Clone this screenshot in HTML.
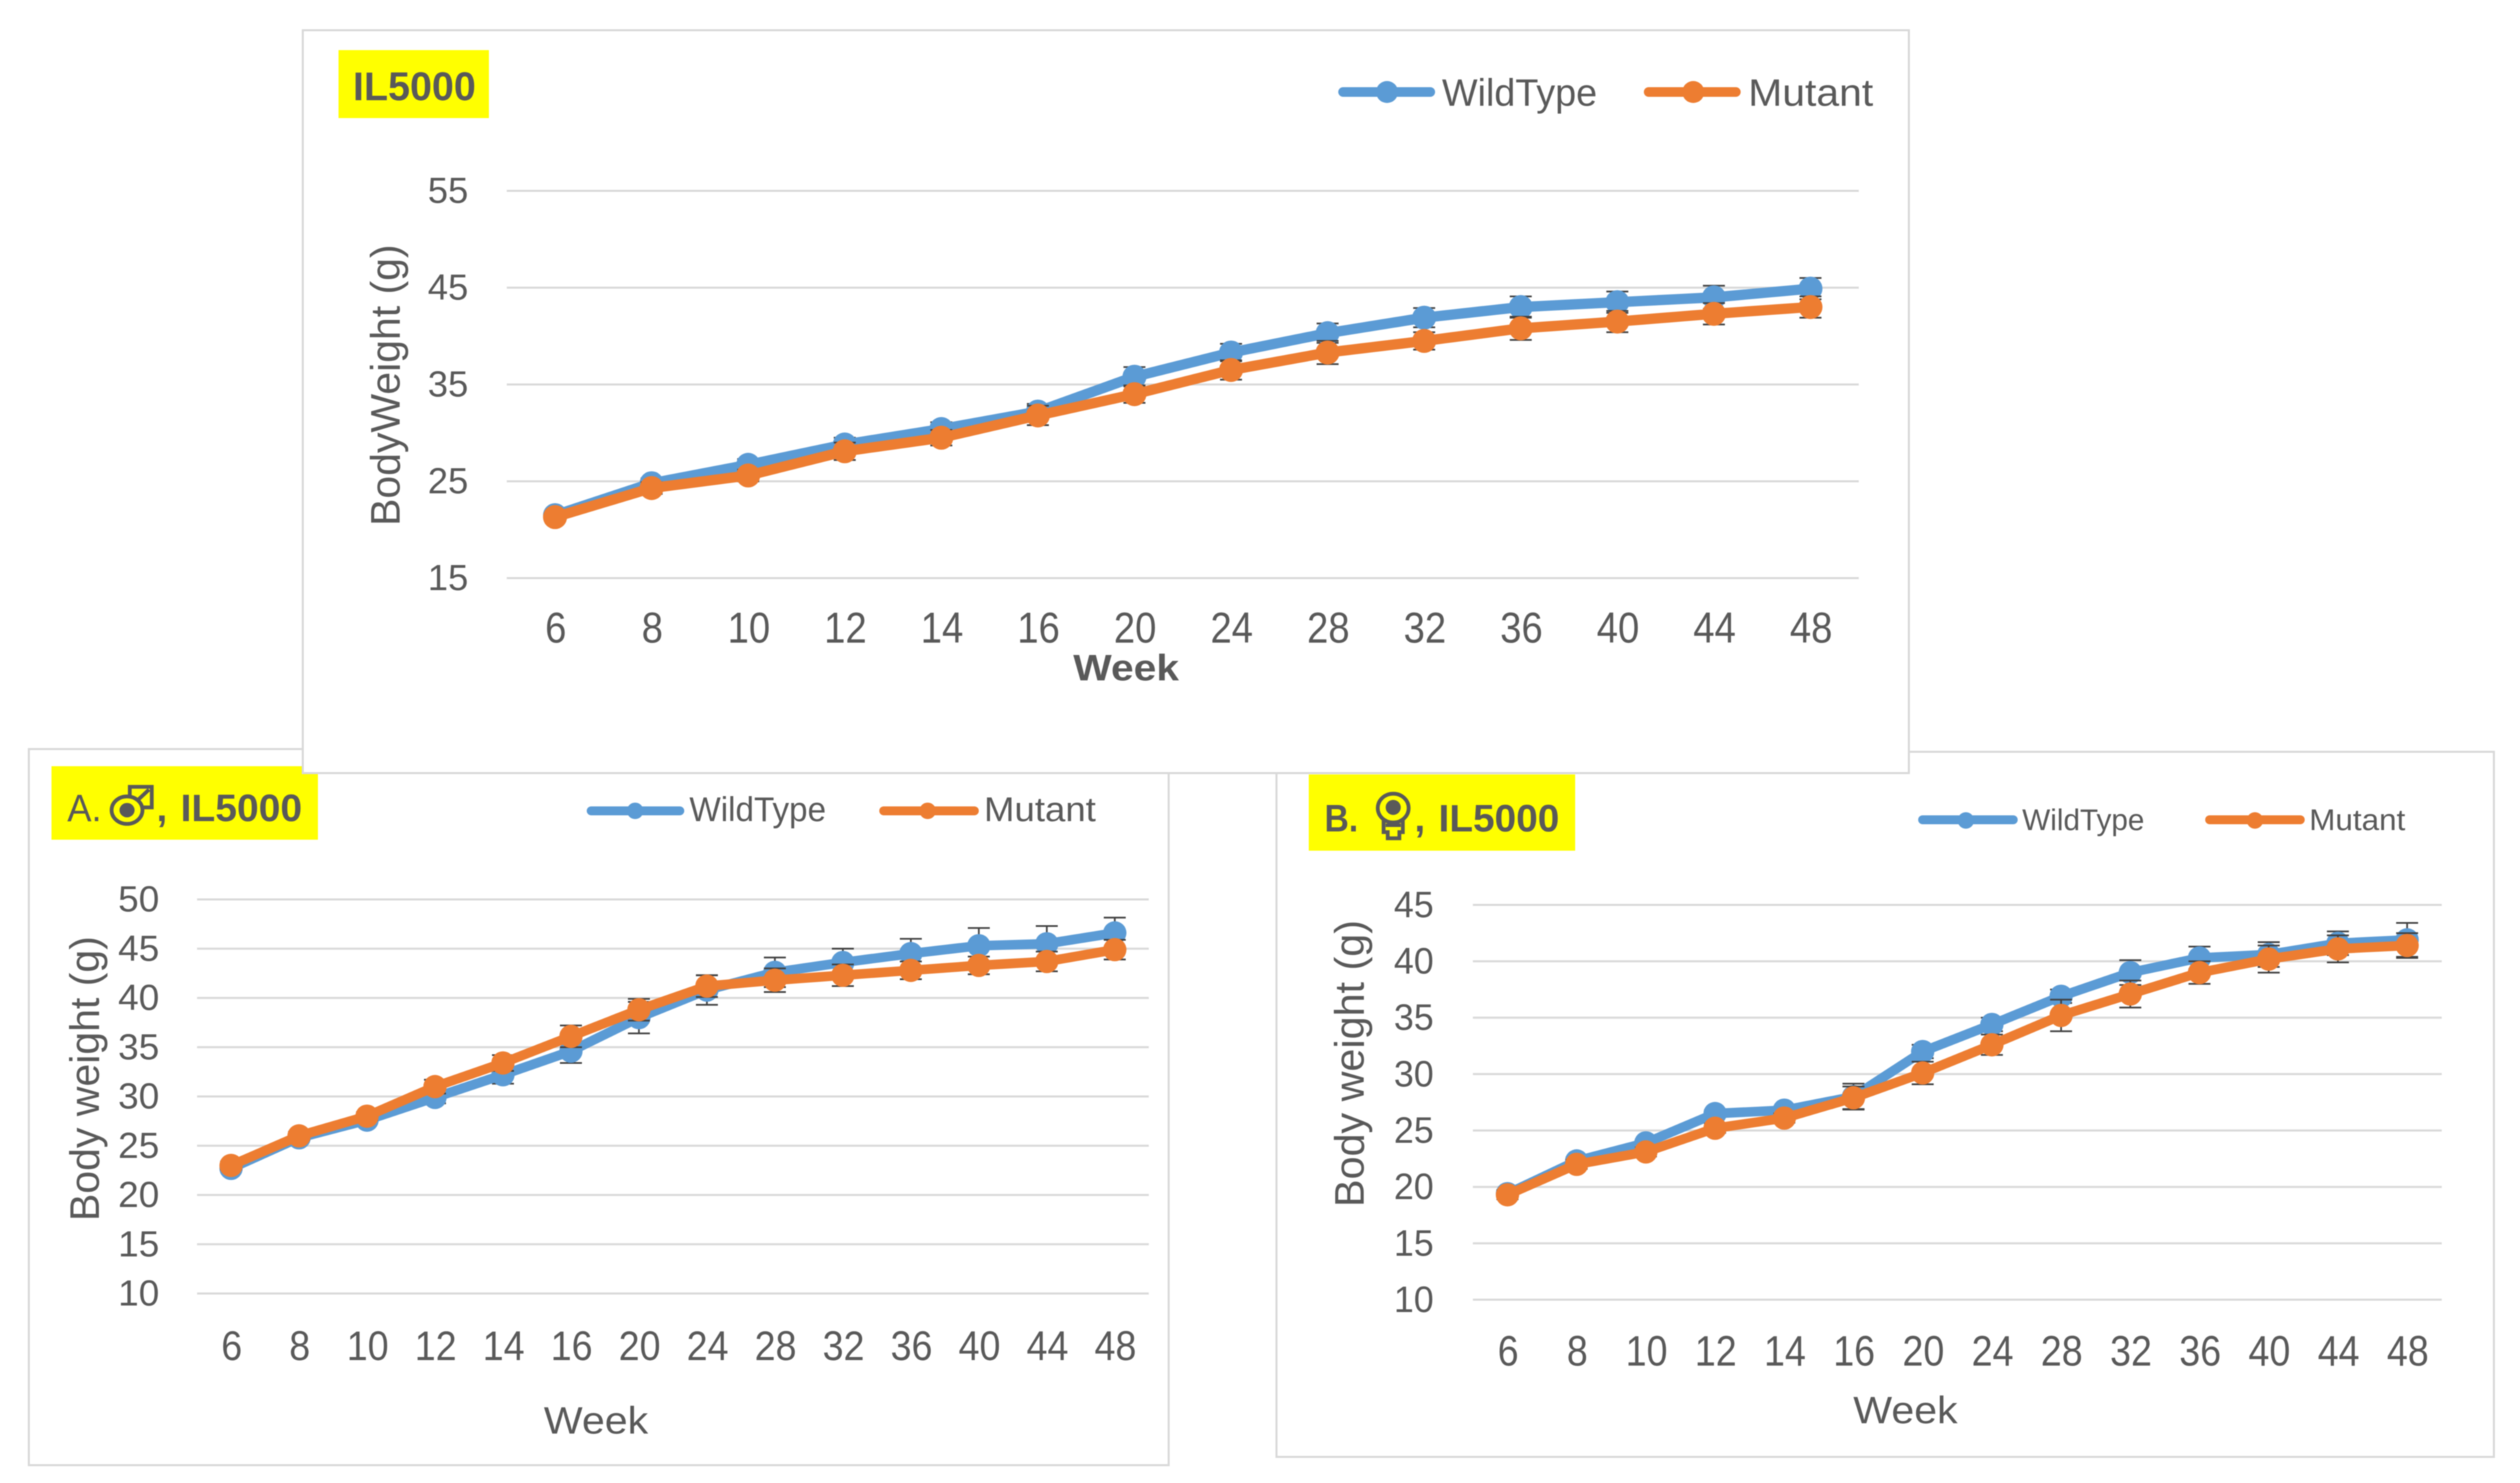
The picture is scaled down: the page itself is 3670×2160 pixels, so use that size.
<!DOCTYPE html>
<html lang="en">
<head>
<meta charset="utf-8">
<title>IL5000 body weight charts</title>
<style>
html,body{margin:0;padding:0;background:#fff;width:3670px;height:2160px;overflow:hidden}
svg{display:block;position:absolute;left:0;top:0;filter:blur(0.8px)}
text{font-family:"Liberation Sans",sans-serif;fill:#595959}
.b{font-weight:bold}
</style>
</head>
<body>
<svg id="figure" xmlns="http://www.w3.org/2000/svg" width="3670" height="2160" viewBox="0 0 3670 2160">
  <rect x="0" y="0" width="3670" height="2160" fill="#fff"/>

  <g id="chart-a">
    <rect x="42" y="1091" width="1660" height="1043" fill="#fff" stroke="#d9d9d9" stroke-width="3"/>
    <rect x="75" y="1116" width="388" height="107" fill="#ffff00"/>
    <text x="98" y="1196" font-size="56" textLength="50" lengthAdjust="spacingAndGlyphs">A.</text>
    <g fill="none" stroke="#595959">
      <ellipse cx="185" cy="1180" rx="22.5" ry="20" stroke-width="5.5"/>
      <ellipse cx="185" cy="1180" rx="11" ry="10.5" fill="#595959" stroke="none"/>
      <path d="M189 1158V1146H221V1176H208" stroke-width="5.5"/>
      <path d="M200 1166L217 1150" stroke-width="5.5"/>
    </g>
    <text class="b" x="228" y="1196" font-size="56">,</text>
    <text class="b" x="263" y="1196" font-size="56" textLength="177" lengthAdjust="spacingAndGlyphs">IL5000</text>
    <g>
      <line x1="861" y1="1181" x2="990" y2="1181" stroke="#5b9bd5" stroke-width="13" stroke-linecap="round"/>
      <circle cx="925" cy="1181" r="12" fill="#5b9bd5"/>
      <text x="1004" y="1196" font-size="50" textLength="199" lengthAdjust="spacingAndGlyphs">WildType</text>
      <line x1="1287" y1="1181" x2="1419" y2="1181" stroke="#ed7d31" stroke-width="13" stroke-linecap="round"/>
      <circle cx="1351" cy="1181" r="12" fill="#ed7d31"/>
      <text x="1433" y="1196" font-size="50" textLength="163" lengthAdjust="spacingAndGlyphs">Mutant</text>
    </g>
    <text transform="translate(144 1571) rotate(-90)" text-anchor="middle" font-size="60" textLength="415" lengthAdjust="spacingAndGlyphs">Body weight (g)</text>
    <text x="868" y="2088" text-anchor="middle" font-size="56" textLength="152" lengthAdjust="spacingAndGlyphs">Week</text>
    <g id="plot-a"></g>
  </g>

  <g id="chart-b">
    <rect x="1859" y="1095" width="1773" height="1027" fill="#fff" stroke="#d9d9d9" stroke-width="3"/>
    <rect x="1906" y="1128" width="388" height="111" fill="#ffff00"/>
    <text class="b" x="1929" y="1211" font-size="56" textLength="49" lengthAdjust="spacingAndGlyphs">B.</text>
    <g fill="none" stroke="#595959">
      <ellipse cx="2029" cy="1177" rx="22.5" ry="21" stroke-width="5.5"/>
      <ellipse cx="2029" cy="1176" rx="11" ry="11" fill="#595959" stroke="none"/>
      <path d="M2015 1193V1212H2021V1221H2038V1212H2043V1193" stroke-width="5.5"/>
      <path d="M2018 1202H2040" stroke-width="5"/>
    </g>
    <text class="b" x="2060" y="1211" font-size="56">,</text>
    <text class="b" x="2095" y="1211" font-size="56" textLength="176" lengthAdjust="spacingAndGlyphs">IL5000</text>
    <g>
      <line x1="2800" y1="1194" x2="2932" y2="1194" stroke="#5b9bd5" stroke-width="13" stroke-linecap="round"/>
      <circle cx="2863" cy="1195" r="12" fill="#5b9bd5"/>
      <text x="2945" y="1209" font-size="44" textLength="178" lengthAdjust="spacingAndGlyphs">WildType</text>
      <line x1="3218" y1="1194" x2="3350" y2="1194" stroke="#ed7d31" stroke-width="13" stroke-linecap="round"/>
      <circle cx="3284" cy="1195" r="12" fill="#ed7d31"/>
      <text x="3363" y="1209" font-size="44" textLength="140" lengthAdjust="spacingAndGlyphs">Mutant</text>
    </g>
    <text transform="translate(1986 1549) rotate(-90)" text-anchor="middle" font-size="60" textLength="418" lengthAdjust="spacingAndGlyphs">Body weight (g)</text>
    <text x="2775" y="2073" text-anchor="middle" font-size="56" textLength="152" lengthAdjust="spacingAndGlyphs">Week</text>
    <g id="plot-b"></g>
  </g>

  <g id="chart-top">
    <rect x="441" y="44" width="2339" height="1082" fill="#fff" stroke="#d9d9d9" stroke-width="3"/>
    <rect x="493" y="73" width="219" height="99" fill="#ffff00"/>
    <text class="b" x="514" y="146" font-size="58" textLength="179" lengthAdjust="spacingAndGlyphs">IL5000</text>
    <g>
      <line x1="1956" y1="134" x2="2083" y2="134" stroke="#5b9bd5" stroke-width="14" stroke-linecap="round"/>
      <circle cx="2020" cy="134" r="16" fill="#5b9bd5"/>
      <text x="2100" y="154" font-size="56" textLength="226" lengthAdjust="spacingAndGlyphs">WildType</text>
      <line x1="2401" y1="134" x2="2528" y2="134" stroke="#ed7d31" stroke-width="14" stroke-linecap="round"/>
      <circle cx="2466" cy="134" r="16" fill="#ed7d31"/>
      <text x="2546" y="154" font-size="56" textLength="182" lengthAdjust="spacingAndGlyphs">Mutant</text>
    </g>
    <text transform="translate(582 561) rotate(-90)" text-anchor="middle" font-size="60" textLength="410" lengthAdjust="spacingAndGlyphs">BodyWeight (g)</text>
    <text class="b" x="1640" y="991" text-anchor="middle" font-size="54" textLength="154" lengthAdjust="spacingAndGlyphs">Week</text>
    <g id="plot-top"></g>
  </g>
</svg>

<script>
const weekLabels = ["6","8","10","12","14","16","20","24","28","32","36","40","44","48"];

const combinedTicks = [15,25,35,45,55];
const combinedWildType = [21.5,24.8,26.7,28.8,30.4,32.2,35.8,38.3,40.3,41.9,43.0,43.5,44.0,44.9];
const combinedWildTypeErr = [0.3,0.5,0.6,0.7,0.7,0.8,1.0,0.9,1.0,1.0,1.1,1.1,1.2,1.1];
const combinedMutant = [21.3,24.3,25.6,28.1,29.5,31.8,34.0,36.5,38.3,39.5,40.8,41.5,42.3,43.0];
const combinedMutantErr = [0.3,0.6,0.6,0.9,0.8,1.0,0.9,1.0,1.2,0.9,1.2,1.1,1.1,1.1];

const maleTicks = [10,15,20,25,30,35,40,45,50];
const maleWildType = [22.7,25.8,27.6,29.9,32.2,34.6,38.0,40.8,42.6,43.6,44.5,45.3,45.5,46.6];
const maleWildTypeErr = [0.3,0.3,0.3,0.6,0.9,1.2,1.6,1.5,1.5,1.4,1.5,1.8,1.8,1.55];
const maleMutant = [23.0,26.0,28.0,31.0,33.4,36.1,38.8,41.2,41.8,42.3,42.8,43.3,43.7,44.9];
const maleMutantErr = [0.4,0.4,0.4,0.7,0.8,1.1,1.1,1.1,1.2,1.1,0.9,0.9,1.0,1.0];

const femaleTicks = [10,15,20,25,30,35,40,45];
const femaleWildType = [19.4,22.3,23.9,26.5,26.8,28.0,32.0,34.4,36.9,39.0,40.3,40.6,41.6,41.9];
const femaleWildTypeErr = [0.3,0.3,0.3,0.3,0.3,1.15,0.6,0.6,0.6,1.1,1.0,1.1,1.05,1.5];
const femaleMutant = [19.3,22.0,23.1,25.2,26.1,27.9,30.1,32.6,35.2,37.1,39.0,40.2,41.1,41.4];
const femaleMutantErr = [0.4,0.4,0.4,0.4,0.4,1.0,1.0,0.9,1.4,1.2,1.0,1.2,1.2,1.1];

const NS = "http://www.w3.org/2000/svg";

function make(tag, attrs, parent) {
  const node = document.createElementNS(NS, tag);
  for (const key in attrs) node.setAttribute(key, attrs[key]);
  parent.appendChild(node);
  return node;
}

function drawSeries(root, prefix, seriesName, color, values, errors, xScale, yScale, lineWidth, radius) {
  errors.forEach(function (err, i) {
    const x = xScale(i);
    const top = yScale(values[i] + err);
    const bottom = yScale(values[i] - err);
    const bar = make("path", {
      d: "M" + x + " " + top + "V" + bottom + "M" + (x - 16) + " " + top + "H" + (x + 16) + "M" + (x - 16) + " " + bottom + "H" + (x + 16),
      fill: "none", stroke: "#404040", "stroke-width": 2.5
    }, root);
    
    
  });
  const points = values.map(function (v, i) { return xScale(i) + "," + yScale(v); }).join(" ");
  const line = make("polyline", {
    points: points, fill: "none", stroke: color, "stroke-width": lineWidth,
    "stroke-linejoin": "round", "stroke-linecap": "round"
  }, root);
  
  
  values.forEach(function (v, i) {
    const dot = make("circle", { cx: xScale(i), cy: yScale(v), r: radius, fill: color }, root);
    
    
  });
}

function drawChart(opts) {
  const root = document.getElementById(opts.id);
  const band = (opts.right - opts.left) / weekLabels.length;
  const xScale = function (i) { return opts.left + band * (i + 0.5); };
  const lo = opts.ticks[0];
  const hi = opts.ticks[opts.ticks.length - 1];
  const yScale = function (v) { return opts.bottom - (v - lo) * (opts.bottom - opts.top) / (hi - lo); };

  opts.ticks.forEach(function (t) {
    const y = yScale(t);
    const grid = make("line", { x1: opts.left, x2: opts.right, y1: y, y2: y, stroke: "#d9d9d9", "stroke-width": 3 }, root);
    
    
    const text = String(t);
    const label = make("text", {
      x: opts.tickX, y: y + opts.tickSize * 0.35 - 1, "text-anchor": "end", "font-size": opts.tickSize,
      textLength: text.length * opts.tickAdvance, lengthAdjust: "spacingAndGlyphs"
    }, root);
    label.textContent = text;
    
    
  });

  weekLabels.forEach(function (w, i) {
    const label = make("text", {
      x: xScale(i) + 1, y: opts.weekY, "text-anchor": "middle", "font-size": opts.weekSize,
      textLength: w.length * opts.weekAdvance, lengthAdjust: "spacingAndGlyphs"
    }, root);
    label.textContent = w;
    
    
  });

  drawSeries(root, opts.prefix, 'wildtype', "#5b9bd5", opts.wildType, opts.wildTypeErr, xScale, yScale, opts.lineWidth, opts.radius);
  drawSeries(root, opts.prefix, 'mutant', "#ed7d31", opts.mutant, opts.mutantErr, xScale, yScale, opts.lineWidth, opts.radius);
}

drawChart({
  id: "plot-a", prefix: "male", ticks: maleTicks,
  wildType: maleWildType, wildTypeErr: maleWildTypeErr, mutant: maleMutant, mutantErr: maleMutantErr,
  left: 287, right: 1673, top: 1310, bottom: 1884,
  tickX: 232, tickSize: 53, tickAdvance: 30, weekY: 1981, weekSize: 60, weekAdvance: 30.5, lineWidth: 14, radius: 17
});

drawChart({
  id: "plot-b", prefix: "female", ticks: femaleTicks,
  wildType: femaleWildType, wildTypeErr: femaleWildTypeErr, mutant: femaleMutant, mutantErr: femaleMutantErr,
  left: 2145, right: 3556, top: 1318, bottom: 1893,
  tickX: 2088, tickSize: 54, tickAdvance: 29, weekY: 1989, weekSize: 62, weekAdvance: 30.5, lineWidth: 14, radius: 17
});

drawChart({
  id: "plot-top", prefix: "combined", ticks: combinedTicks,
  wildType: combinedWildType, wildTypeErr: combinedWildTypeErr, mutant: combinedMutant, mutantErr: combinedMutantErr,
  left: 738, right: 2707, top: 278, bottom: 842,
  tickX: 682, tickSize: 53, tickAdvance: 29.5, weekY: 936, weekSize: 63, weekAdvance: 31, lineWidth: 15, radius: 17.5
});
</script>
</body>
</html>
